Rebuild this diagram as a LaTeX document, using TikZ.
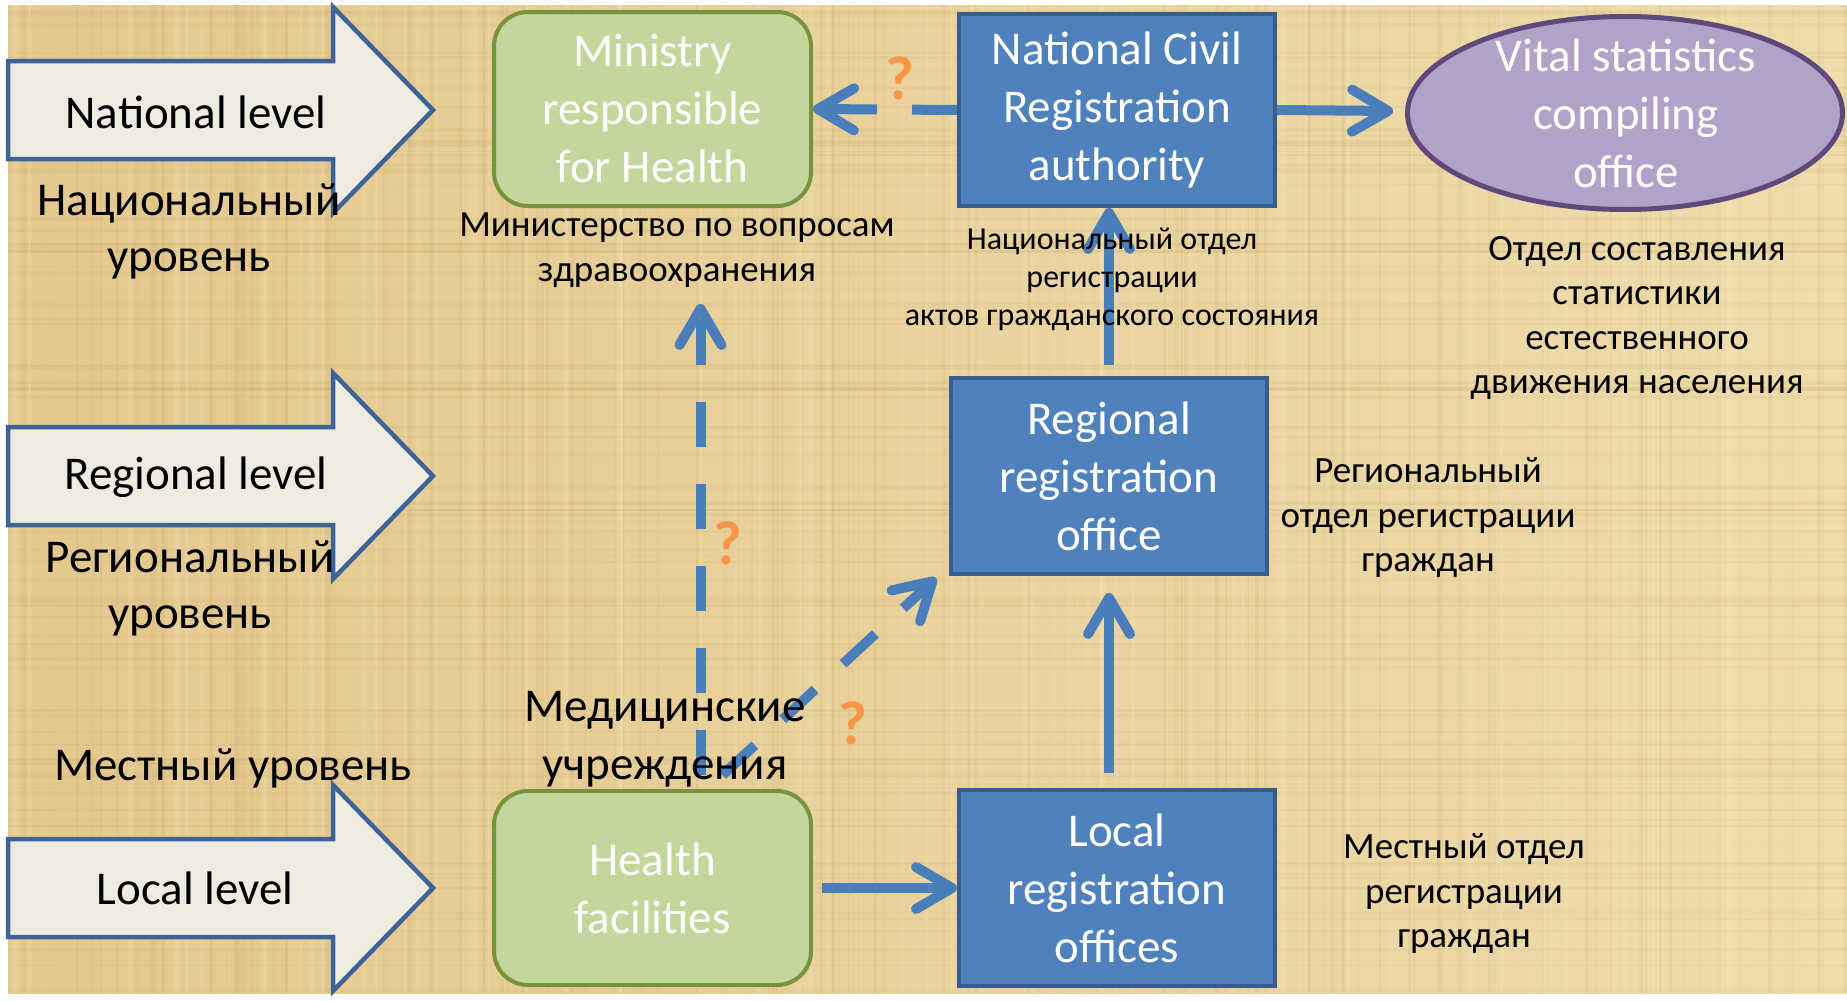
\documentclass[tikz,border=0pt]{standalone}
\usepackage{fontspec}
\setmainfont{Carlito}
\usetikzlibrary{arrows.meta,shapes.geometric}
\definecolor{parchA}{RGB}{228,200,142}
\definecolor{parchB}{RGB}{238,220,172}
\definecolor{parchDark}{RGB}{190,150,80}
\definecolor{parchLight}{RGB}{250,238,200}
\definecolor{boxblue}{HTML}{4F81BD}
\definecolor{boxblueline}{HTML}{385D8A}
\definecolor{arrowblue}{HTML}{4A7EBB}
\definecolor{hgreen}{HTML}{C3D69B}
\definecolor{hgreenline}{HTML}{77933C}
\definecolor{vpurple}{HTML}{B3A2C7}
\definecolor{vpurpleline}{HTML}{5F497A}
\definecolor{lvlfill}{HTML}{EEECE1}
\definecolor{lvlline}{HTML}{3D6399}
\definecolor{qorange}{HTML}{F79646}
\tikzset{
  bigtxt/.style={font=\fontsize{47}{58}\selectfont},
  bluebox/.style={draw=boxblueline, fill=boxblue, line width=4pt, text=white, align=center, bigtxt, inner sep=0pt, minimum width=316pt},
  greenbox/.style={draw=hgreenline, fill=hgreen, line width=4pt, rounded corners=34pt, text=white, align=center, bigtxt, inner sep=0pt, minimum width=317pt, minimum height=194pt},
  vstat/.style={ellipse, draw=vpurpleline, fill=vpurple, line width=5pt, inner sep=0pt, minimum width=435pt, minimum height=193pt},
  whitetxt/.style={text=white, align=center, bigtxt, inner sep=0pt},
  lvlarrow/.style={draw=lvlline, fill=lvlfill, line width=4.5pt, line join=miter},
  lvltxt/.style={font=\fontsize{47}{56}\selectfont, align=center, inner sep=0pt},
  capA/.style={font=\fontsize{37}{44.5}\selectfont, align=center, inner sep=0pt},
  capB/.style={font=\fontsize{32}{38}\selectfont, align=center, inner sep=0pt},
  qmark/.style={text=qorange, font=\fontsize{62}{62}\selectfont\bfseries, inner sep=0pt},
  conn/.style={draw=arrowblue, line width=10pt, line cap=butt, -{Straight Barb[length=36pt,width=42pt,round]}},
  dconn/.style={conn, dash pattern=on 45pt off 37pt},
}
\begin{document}
\begin{tikzpicture}[x=1pt,y=-1pt]
\useasboundingbox (0,0) rectangle (1847,1001);
\fill[white] (0,0) rectangle (1847,1001);
\shade[left color=parchA, right color=parchB] (8,5) rectangle (1847,993);
% parchment texture
\begin{scope}
\clip (8,5) rectangle (1847,993);
\pgfmathsetseed{7}
\foreach \i in {1,...,160}{
  \pgfmathsetmacro{\xx}{8+1839*rnd}
  \pgfmathsetmacro{\ww}{1+3*rnd}
  \pgfmathsetmacro{\oo}{0.04+0.08*rnd}
  \draw[parchDark, opacity=\oo, line width=\ww pt] (\xx,5) -- (\xx,993);
}
\foreach \i in {1,...,110}{
  \pgfmathsetmacro{\yy}{5+988*rnd}
  \pgfmathsetmacro{\ww}{1+3*rnd}
  \pgfmathsetmacro{\oo}{0.04+0.08*rnd}
  \draw[parchDark, opacity=\oo, line width=\ww pt] (8,\yy) -- (1847,\yy);
}
\foreach \i in {1,...,90}{
  \pgfmathsetmacro{\xx}{8+1839*rnd}
  \pgfmathsetmacro{\ww}{2+4*rnd}
  \pgfmathsetmacro{\oo}{0.08+0.12*rnd}
  \draw[parchLight, opacity=\oo, line width=\ww pt] (\xx,5) -- (\xx,993);
}
\end{scope}

% level arrows
\draw[lvlarrow] (8,61) -- (333,61) -- (333,7) -- (433,110) -- (333,213) -- (333,159) -- (8,159) -- cycle;
\draw[lvlarrow] (8,427) -- (333,427) -- (333,373) -- (433,476) -- (333,579) -- (333,525) -- (8,525) -- cycle;
\draw[lvlarrow] (8,839) -- (333,839) -- (333,785) -- (433,888) -- (333,991) -- (333,937) -- (8,937) -- cycle;

% boxes
\node[greenbox] (ministry) at (652.5,109) {Ministry\\responsible\\for Health};
\node[bluebox, minimum height=192pt] (ncra) at (1117,110) {National Civil\\Registration\\authority};
\node[vstat] (vital) at (1625,113) {};
\node[whitetxt] (vitaltxt) at (1626,113) {Vital statistics\\compiling\\office};
\node[bluebox, minimum height=196pt] (regional) at (1109,476) {Regional\\registration\\office};
\node[bluebox, minimum height=196pt] (local) at (1117,888) {Local\\registration\\offices};
\node[greenbox] (health) at (652.5,888) {Health\\facilities};

% connectors
\draw[conn, dash pattern=on 45pt off 35pt on 300pt off 1pt] (ncra.west) -- (ministry.east);
\draw[conn, shorten >=12pt] (ncra.east) -- (vital);
\draw[conn, shorten <=11pt] (regional.north) -- (regional.north |- ncra.south);
\draw[conn, shorten <=15pt, shorten >=17pt] (regional.south |- local.north) -- (regional.south);
\draw[conn, shorten <=9pt] (health.east) -- (local.west);
\draw[dconn] ([shift={(48pt,14pt)}]health.north) -- ([shift={(48pt,-96pt)}]ministry.south);
\draw[dconn, dash pattern=on 44pt off 38pt] ([shift={(70pt,14pt)}]health.north) -- ([shift={(-13pt,-2pt)}]regional.south west);

% question marks
\node[qmark] (q1) at (900,78) {?};
\node[qmark] (q2) at (728,543) {?};
\node[qmark] (q3) at (853,723) {?};

% level labels
\node[lvltxt] (natl) at (196,112) {National level};
\node[lvltxt] (regl) at (196,477) {Regional level};
\node[lvltxt] (locl) at (195,888) {Local level};
\node[lvltxt] (natru) at (189,231) {Национальный\\уровень};
\node[lvltxt] (regru) at (190,588) {Региональный\\уровень};
\node[lvltxt] (locru) at (233,768) {Местный уровень};

% captions
\node[capA] (minru) at (677,250) {Министерство по вопросам\\здравоохранения};
\node[capB] (ncraru) at (1112,279) {Национальный отдел\\регистрации\\актов гражданского состояния};
\node[capA] (vitalru) at (1637,318) {Отдел составления\\статистики\\естественного\\движения населения};
\node[capA] (regru2) at (1428,518) {Региональный\\отдел регистрации\\граждан};
\node[capA] (locru2) at (1464,894) {Местный отдел\\регистрации\\граждан};
\node[lvltxt, font=\fontsize{47}{58}\selectfont] (medru) at (665,739) {Медицинские\\учреждения};
\end{tikzpicture}
\end{document}
